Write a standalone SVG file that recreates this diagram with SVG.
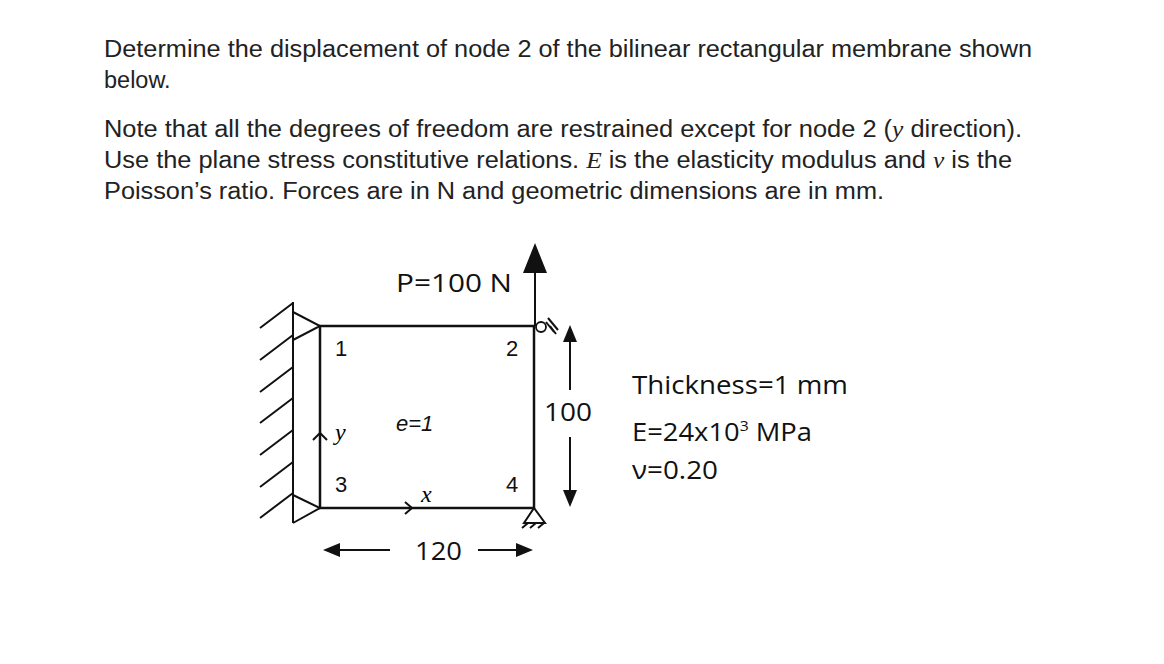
<svg xmlns="http://www.w3.org/2000/svg" width="1164" height="664" viewBox="0 0 1164 664">
<style>
.t{font-family:"Liberation Sans",Arial,sans-serif;font-size:23.5px;fill:#222}
.c{font-family:"Open Sans","Noto Sans",sans-serif;font-size:26px;fill:#111}
.n{font-family:"Liberation Sans",Arial,sans-serif;font-size:22px;fill:#111}
.s{font-family:"Liberation Serif",serif;font-style:italic}
.l{stroke:#111;stroke-width:2.5;fill:none}
.th{stroke:#111;stroke-width:2;fill:none}
</style>
<rect width="1164" height="664" fill="#fff"/>
<g id="text">
<text class="t" x="104" y="57" textLength="928" lengthAdjust="spacingAndGlyphs">Determine the displacement of node 2 of the bilinear rectangular membrane shown</text>
<text class="t" x="104" y="88">below.</text>
<text class="t" x="104" y="137" textLength="918" lengthAdjust="spacingAndGlyphs">Note that all the degrees of freedom are restrained except for node 2 (<tspan class="s">y</tspan> direction).</text>
<text class="t" x="104" y="168" textLength="908" lengthAdjust="spacingAndGlyphs">Use the plane stress constitutive relations. <tspan class="s">E</tspan> is the elasticity modulus and <tspan class="s">ν</tspan> is the</text>
<text class="t" x="104" y="199" textLength="780" lengthAdjust="spacingAndGlyphs">Poisson’s ratio. Forces are in N and geometric dimensions are in mm.</text>
</g>
<g id="wall">
<line class="th" x1="293" y1="302" x2="293" y2="523"/>
<path class="th" d="M293 303l-33 25M293 335l-33 25M293 367l-33 25M293 398l-33 25M293 430l-33 25M293 462l-33 25M293 493l-33 25"/>
<path class="th" d="M293 312L320 326L293 340M293 495L320 508L293 523"/>
</g>
<g id="element">
<rect class="l" x="320" y="326" width="214" height="182"/>
<text class="n" x="335" y="356">1</text>
<text class="n" x="506" y="356">2</text>
<text class="n" x="335" y="492">3</text>
<text class="n" x="506" y="492">4</text>
<text x="396" y="431" class="n" font-style="italic" font-size="24">e=1</text>
<text x="335" y="440" class="s" font-size="24">y</text>
<text x="421" y="502" class="s" font-size="24">x</text>
<path class="th" d="M313 440l7-7l7 7M405 502l7 6l-7 6"/>
</g>
<g id="supports">
<circle cx="541" cy="327" r="5" fill="#fff" stroke="#111" stroke-width="1.8"/>
<path class="th" stroke-width="1.5" d="M546 322l8 10M548 318l10 12M550 326l6 8"/>
<path class="th" stroke-width="1.8" d="M534 508L524 523L545 523Z M522 528l6-5M530 528l6-5M538 528l6-5"/>
</g>
<g id="connectors">
<line class="th" x1="535" y1="326" x2="535" y2="270"/>
<path d="M535 243L523 273L547 273Z" fill="#111"/>
<line class="th" x1="570" y1="340" x2="570" y2="390"/>
<path d="M570 325L563 342L577 342Z" fill="#111"/>
<line class="th" x1="570" y1="437" x2="570" y2="492"/>
<path d="M570 507L563 490L577 490Z" fill="#111"/>
<line class="th" x1="338" y1="550" x2="390" y2="550"/>
<path d="M323 550L340 543L340 557Z" fill="#111"/>
<line class="th" x1="478" y1="550" x2="518" y2="550"/>
<path d="M533 550L516 543L516 557Z" fill="#111"/>
</g>
<g id="labels">
<text class="c" x="396" y="292" textLength="116" lengthAdjust="spacingAndGlyphs">P=100 N</text>
<text class="c" x="544" y="421" font-size="23" textLength="48" lengthAdjust="spacingAndGlyphs">100</text>
<text class="c" x="415" y="560" font-size="23" textLength="47" lengthAdjust="spacingAndGlyphs">120</text>
<text class="c" x="632" y="394" textLength="216" lengthAdjust="spacingAndGlyphs">Thickness=1 mm</text>
<text class="c" x="632" y="441" textLength="180" lengthAdjust="spacingAndGlyphs">E=24x10<tspan dy="-10" font-size="15">3</tspan><tspan dy="10"> MPa</tspan></text>
<text class="c" x="632" y="479" textLength="86" lengthAdjust="spacingAndGlyphs">ν=0.20</text>
</g>
</svg>
